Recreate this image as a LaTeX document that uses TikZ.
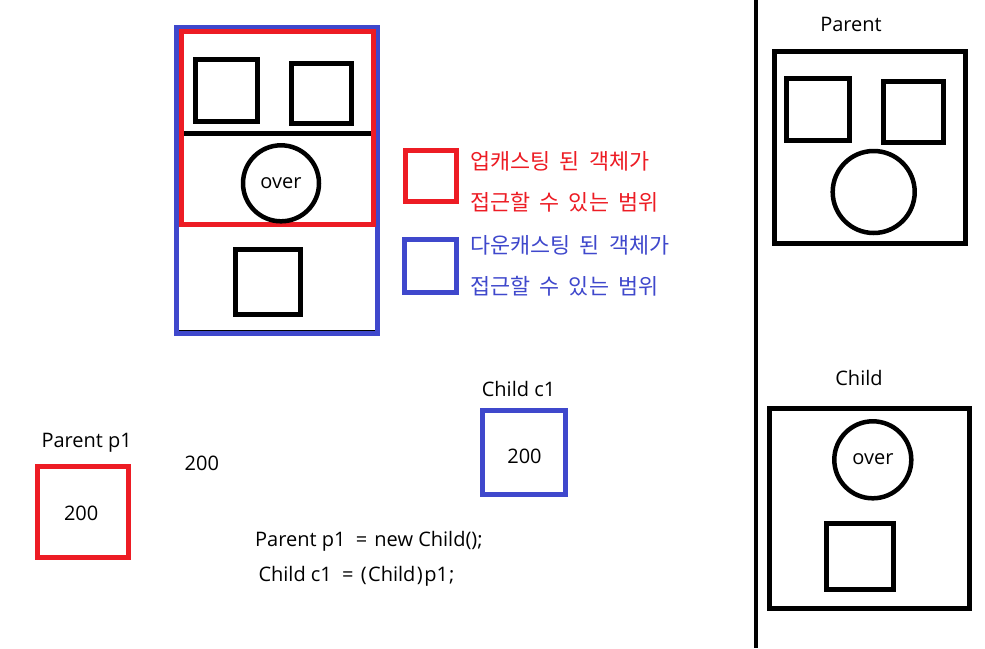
\documentclass[tikz,border=0pt]{standalone}
\usepackage{fontspec}
\setmainfont{Open Sans}
\newfontfamily\kr[WordSpace=1.9]{Noto Sans CJK KR}
\definecolor{pred}{RGB}{237,28,36}
\definecolor{pblue}{RGB}{63,72,204}
\begin{document}
\begin{tikzpicture}[x=1pt,y=-1pt,
  thick box/.style={line width=5pt},
  ring/.style={line width=4.5pt},
  lbl/.style={inner sep=0pt,font=\fontsize{20}{24}\selectfont},
  krtxt/.style={inner sep=0pt,anchor=west,font=\kr\fontsize{21.8}{26}\selectfont}]
\useasboundingbox (0,0) rectangle (985,648);
\fill[white] (0,0) rectangle (985,648);
% top-left object
\draw[line width=1.7pt] (178,133) -- (178,331) -- (376,331);
\draw[pblue,thick box] (176,27) rectangle (377,333.5);
\draw[pred,thick box] (181.5,31.5) rectangle (373,224);
\draw[thick box] (184,133) -- (371,133);
\draw[thick box] (195,59) rectangle (257,121);
\draw[thick box] (291,63) rectangle (351,123);
\draw[ring] (281,183.3) circle (38);
\node[lbl] (over1) at (281,183) {over};
\draw[thick box] (235,249) rectangle (300,314);
% legend
\draw[pred,thick box] (405.5,150.5) rectangle (456,201);
\draw[pblue,thick box] (404,239.5) rectangle (456.5,292);
\node[krtxt,text=pred] (r1) at (470,161) {업캐스팅 된 객체가};
\node[krtxt,text=pred] (r2) at (470,202.5) {접근할 수 있는 범위};
\node[krtxt,text=pblue] (b1) at (470,245.5) {다운캐스팅 된 객체가};
\node[krtxt,text=pblue] (b2) at (470,286) {접근할 수 있는 범위};
% divider
\coordinate (dtop) at (755.5,0);
\coordinate (dbot) at (755.5,648);
\draw[line width=4pt] (dtop) -- (dbot);
% Parent class
\node[lbl] (parent) at (851,24) {Parent};
\draw[thick box] (774,51.5) rectangle (965.5,243);
\draw[thick box] (786.5,78) rectangle (849,140.5);
\draw[thick box] (883,81.5) rectangle (943.5,142);
\draw[ring] (873.7,192) circle (41);
% Child class
\node[lbl] (child) at (859,378) {Child};
\draw[thick box] (769.5,408) rectangle (969.5,608.5);
\draw[ring] (872.8,459.8) circle (38.5);
\node[lbl] (over2) at (873,459) {over};
\draw[thick box] (826.5,523) rectangle (893,589.5);
% bottom left
\node[lbl] (p1lbl) at (86.7,442.5) {Parent p1};
\draw[pred,thick box] (37.5,466.5) rectangle (128.5,557.5);
\node[lbl] (p1val) at (81.2,513) {200};
\node[lbl] (val) at (201.8,463) {200};
\node[lbl] (c1lbl) at (518.5,389) {Child c1};
\draw[pblue,thick box] (482.5,410) rectangle (565.5,494);
\node[lbl] (c1val) at (524.5,456) {200};
\node[lbl,anchor=west] (code1) at (255,541) {Parent p1\hspace{5pt} =\hspace{2pt} new Child();};
\node[lbl,anchor=west] (code2) at (258.3,576.7) {Child c1\hspace{5pt} =\hspace{2pt} (\hspace{1.5pt}Child\hspace{1.5pt})\hspace{1.5pt}p1\hspace{1pt};};
\end{tikzpicture}
\end{document}
